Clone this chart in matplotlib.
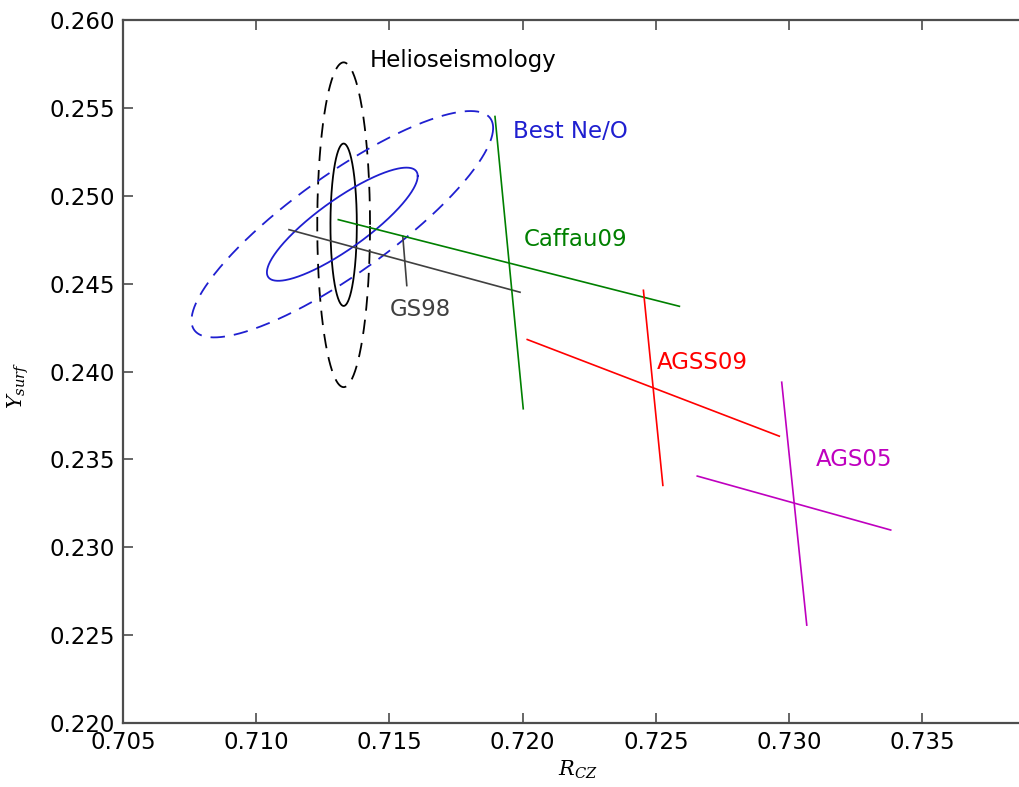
import numpy as np
import matplotlib
matplotlib.use('Agg')
import matplotlib.pyplot as plt

plt.rcParams['mathtext.fontset'] = 'dejavuserif'

# helioseismic constraint (centre, sigma_R, sigma_Y, correlation)
helio_c = (0.71328, 0.24835)
helio_sig = (0.000495, 0.00462)
helio_rho = 0.0

# best Ne/O fit
neo_c = (0.71323, 0.24838)
neo_sig = (0.00283, 0.00322)
neo_rho = 0.85

# model crosses: two segments each, [(x0, x1), (y0, y1)]
models = ['GS98', 'Caffau09', 'AGSS09', 'AGS05']
long_x = [(0.71123, 0.71990), (0.71308, 0.72588), (0.72017, 0.72963), (0.72655, 0.73381)]
long_y = [(0.24807, 0.24451), (0.24864, 0.24371), (0.24182, 0.23632), (0.23405, 0.23098)]
short_x = [(0.71550, 0.71565), (0.71896, 0.72002), (0.72453, 0.72526), (0.72972, 0.73066)]
short_y = [(0.24769, 0.24489), (0.25451, 0.23788), (0.24462, 0.23352), (0.23939, 0.22557)]
model_col = ['0.25', 'g', 'r', 'm']

label_txt = ['Helioseismology', 'Best Ne/O', 'Caffau09', 'GS98', 'AGSS09', 'AGS05']
label_x = [0.71427, 0.71965, 0.72005, 0.71502, 0.72503, 0.73101]
label_y = [0.25769, 0.25365, 0.24750, 0.24352, 0.24053, 0.23500]
label_col = ['k', '#1f1fd0', 'g', '0.25', 'r', 'm']


def ellipse(c, sig, rho, n):
    t = np.linspace(0, 2 * np.pi, 400)
    x = c[0] + n * sig[0] * np.cos(t)
    y = c[1] + n * sig[1] * (rho * np.cos(t) + np.sqrt(1 - rho ** 2) * np.sin(t))
    return x, y


fig = plt.figure(figsize=(10.2, 7.87), dpi=100)
ax = fig.add_axes([123 / 1020., 1 - 723 / 787., 906 / 1020., 703 / 787.])

for n, ls in [(1, '-'), (2, '--')]:
    x, y = ellipse(helio_c, helio_sig, helio_rho, n)
    l, = ax.plot(x, y, color='k', lw=1.3, ls=ls)
    if ls == '--':
        l.set_dashes((8, 5))
    x, y = ellipse(neo_c, neo_sig, neo_rho, n)
    l, = ax.plot(x, y, color='#1f1fd0', lw=1.3, ls=ls)
    if ls == '--':
        l.set_dashes((8, 5))

for i in range(len(models)):
    ax.plot(long_x[i], long_y[i], color=model_col[i], lw=1.2)
    ax.plot(short_x[i], short_y[i], color=model_col[i], lw=1.2)

for t, x, y, c in zip(label_txt, label_x, label_y, label_col):
    ax.text(x, y, t, color=c, fontsize=16.5, va='center', ha='left')

xt = np.arange(0.705, 0.7386, 0.005)
yt = np.arange(0.220, 0.2601, 0.005)
ax.set_xlim(0.705, 0.7390)
ax.set_ylim(0.220, 0.260)
ax.set_xticks(xt)
ax.set_yticks(yt)
ax.set_xticklabels(['%.3f' % v for v in xt])
ax.set_yticklabels(['%.3f' % v for v in yt])
ax.tick_params(direction='in', length=7, width=1.2, color='0.3',
               labelsize=16.5, top=True, right=True, pad=6)
for s in ax.spines.values():
    s.set_color('0.3')
    s.set_linewidth(1.6)

fig.text(578 / 1020., 1 - 770 / 787., r'$R_{CZ}$', fontsize=15, ha='center', va='center')
fig.text(18 / 1020., 1 - 385 / 787., r'$Y_{surf}$', fontsize=15, ha='center', va='center',
         rotation=90)

fig.savefig('out.png', dpi=100)
